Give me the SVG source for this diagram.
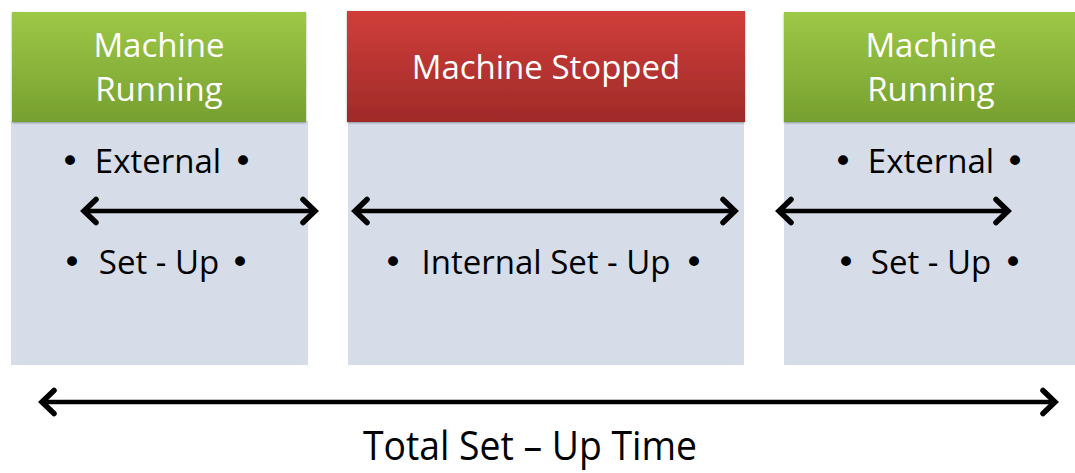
<svg xmlns="http://www.w3.org/2000/svg" width="1075" height="473" viewBox="0 0 1075 473">
  <defs>
    <linearGradient id="gradGreen" x1="0" y1="0" x2="0" y2="1">
      <stop offset="0" stop-color="#9EC847"/>
      <stop offset="1" stop-color="#76A02F"/>
    </linearGradient>
    <linearGradient id="gradRed" x1="0" y1="0" x2="0" y2="1">
      <stop offset="0" stop-color="#D03E3A"/>
      <stop offset="1" stop-color="#9F2A28"/>
    </linearGradient>
    <filter id="softShadow" x="-5%" y="-10%" width="110%" height="125%">
      <feGaussianBlur in="SourceAlpha" stdDeviation="1.2"/>
      <feOffset dx="0" dy="1" result="blur"/>
      <feComponentTransfer><feFuncA type="linear" slope="0.35"/></feComponentTransfer>
      <feMerge><feMergeNode/><feMergeNode in="SourceGraphic"/></feMerge>
    </filter>
    <marker id="chevron" markerUnits="userSpaceOnUse" viewBox="-16 -16 20 32" markerWidth="20" markerHeight="32" refX="0" refY="0" orient="auto-start-reverse">
      <path d="M-12,-11.5 L0,0 L-12,11.5" fill="none" stroke="#000" stroke-width="5.5" stroke-linecap="round" stroke-linejoin="miter"/>
    </marker>
  </defs>
  <style>
    .body { fill: #D6DDE9; }
    .head-green { fill: url(#gradGreen); }
    .head-red { fill: url(#gradRed); }
    .title { font-family: "Open Sans", "Noto Sans", sans-serif; font-size: 33px; fill: #FFFFFF; text-anchor: middle; }
    .item { font-family: "Open Sans", "Noto Sans", sans-serif; font-size: 33px; fill: #000000; text-anchor: middle; }
    .bullet { font-family: "DejaVu Sans", sans-serif; font-size: 34px; }
    .caption { font-family: "Open Sans", "Noto Sans", sans-serif; font-size: 41px; fill: #000000; }
    .span { fill: none; stroke: #000; stroke-width: 4.5; marker-start: url(#chevron); marker-end: url(#chevron); }
  </style>

  <rect width="1075" height="473" fill="#FFFFFF"/>

  <!-- Phase 1: machine running -->
  <g id="running-left">
    <rect class="body" x="11" y="121" width="297" height="244"/>
    <rect class="head-green" x="12" y="12" width="294" height="110" filter="url(#softShadow)"/>
    <text class="title" x="159" y="57">Machine</text>
    <text class="title" x="159" y="101">Running</text>
    <text class="item" y="173"><tspan class="bullet" x="70">•</tspan><tspan x="158">External</tspan><tspan class="bullet" x="243">•</tspan></text>
    <text class="item" y="274"><tspan class="bullet" x="72">•</tspan><tspan x="159">Set - Up</tspan><tspan class="bullet" x="240">•</tspan></text>
  </g>

  <!-- Phase 2: machine stopped -->
  <g id="stopped">
    <rect class="body" x="348" y="121" width="396" height="244"/>
    <rect class="head-red" x="347" y="11" width="398" height="111" filter="url(#softShadow)"/>
    <text class="title" x="546" y="79">Machine Stopped</text>
    <text class="item" y="274"><tspan class="bullet" x="393">•</tspan><tspan x="546">Internal Set - Up</tspan><tspan class="bullet" x="694">•</tspan></text>
  </g>

  <!-- Phase 3: machine running -->
  <g id="running-right">
    <rect class="body" x="784" y="121" width="291" height="244"/>
    <rect class="head-green" x="784" y="12" width="291" height="110" filter="url(#softShadow)"/>
    <text class="title" x="931" y="57">Machine</text>
    <text class="title" x="931" y="101">Running</text>
    <text class="item" y="173"><tspan class="bullet" x="843">•</tspan><tspan x="931">External</tspan><tspan class="bullet" x="1015">•</tspan></text>
    <text class="item" y="274"><tspan class="bullet" x="846">•</tspan><tspan x="931">Set - Up</tspan><tspan class="bullet" x="1013">•</tspan></text>
  </g>

  <!-- Duration spans -->
  <g id="connectors">
    <path class="span" d="M84,211 H315"/>
    <path class="span" d="M355,211 H735"/>
    <path class="span" d="M779,211 H1008"/>
    <path class="span" d="M42,402 H1055"/>
  </g>

  <g id="total-label">
    <text class="caption" x="363" y="460" textLength="334" lengthAdjust="spacingAndGlyphs">Total Set – Up Time</text>
  </g>
</svg>
